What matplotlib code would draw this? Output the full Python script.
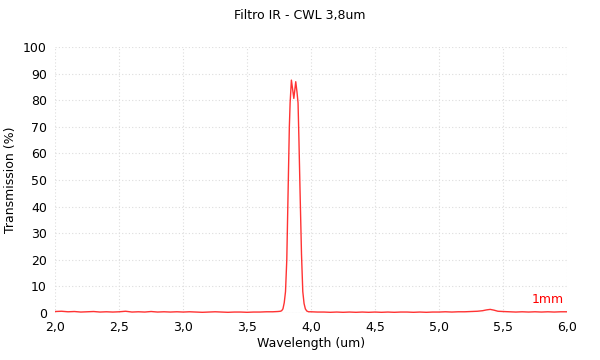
import matplotlib
matplotlib.use("Agg")
import matplotlib.pyplot as plt

# wavelength (um) and transmission (%)
wavelength = [2.00, 2.05, 2.10, 2.15, 2.20, 2.25, 2.30, 2.35, 2.40, 2.45, 2.50,
              2.55, 2.60, 2.65, 2.70, 2.75, 2.80, 2.85, 2.90, 2.95, 3.00,
              3.05, 3.10, 3.15, 3.20, 3.25, 3.30, 3.35, 3.40, 3.45, 3.50,
              3.55, 3.60, 3.65, 3.70, 3.74, 3.76, 3.77, 3.78, 3.79, 3.80,
              3.81, 3.82, 3.83, 3.836, 3.846, 3.856, 3.865, 3.873, 3.880,
              3.890, 3.898, 3.905, 3.914, 3.925, 3.935, 3.945, 3.955, 3.966,
              3.98, 4.00, 4.05,
              4.10, 4.15, 4.20, 4.25, 4.30, 4.35, 4.40, 4.45, 4.50, 4.55,
              4.60, 4.65, 4.70, 4.75, 4.80, 4.85, 4.90, 4.95, 5.00, 5.05,
              5.10, 5.15, 5.20, 5.25, 5.30, 5.34, 5.37, 5.40, 5.43, 5.46,
              5.50, 5.55, 5.60, 5.65, 5.70, 5.75, 5.80, 5.85, 5.90, 5.95, 6.00]
transmission = [0.5, 0.6, 0.4, 0.5, 0.3, 0.4, 0.5, 0.3, 0.4, 0.3, 0.4,
                0.6, 0.3, 0.4, 0.3, 0.5, 0.3, 0.4, 0.3, 0.4, 0.3,
                0.4, 0.3, 0.2, 0.3, 0.4, 0.3, 0.2, 0.3, 0.3, 0.2,
                0.3, 0.3, 0.4, 0.4, 0.5, 0.6, 0.8, 1.5, 3.8, 8.0,
                20.0, 45.0, 70.0, 79.0, 87.6, 84.0, 80.7, 84.0, 87.0,
                83.0, 79.0, 65.0, 45.0, 22.0, 8.0, 3.5, 1.5, 0.7,
                0.4, 0.4, 0.3,
                0.3, 0.2, 0.3, 0.2, 0.3, 0.2, 0.3, 0.2, 0.3, 0.2,
                0.3, 0.2, 0.3, 0.3, 0.2, 0.3, 0.2, 0.3, 0.3, 0.4,
                0.3, 0.4, 0.4, 0.5, 0.6, 0.8, 1.1, 1.3, 1.0, 0.6,
                0.5, 0.4, 0.3, 0.4, 0.3, 0.4, 0.3, 0.4, 0.3, 0.4, 0.4]

x_ticks = [2.0, 2.5, 3.0, 3.5, 4.0, 4.5, 5.0, 5.5, 6.0]
x_labels = ["2,0", "2,5", "3,0", "3,5", "4,0", "4,5", "5,0", "5,5", "6,0"]
y_ticks = list(range(0, 101, 10))

fig = plt.figure(figsize=(6, 3.6), dpi=100)
ax = fig.add_axes([0.092, 0.131, 0.853, 0.738])

ax.plot(wavelength, transmission, color="#ff3333", linewidth=1.0)
ax.text(5.85, 2.5, "1mm", color="red", fontsize=9, ha="center", va="bottom")

ax.set_xlim(2.0, 6.0)
ax.set_ylim(0, 100)
ax.set_xticks(x_ticks)
ax.set_xticklabels(x_labels)
ax.set_yticks(y_ticks)
ax.tick_params(length=0, labelsize=9, pad=6)
ax.grid(True, linestyle=(0, (1, 2)), color="#dddddd", linewidth=0.8)
for s in ax.spines.values():
    s.set_visible(False)
ax.axhline(0, color="#dddddd", linewidth=0.8, zorder=0)

ax.set_xlabel("Wavelength (um)", fontsize=9, labelpad=2)
ax.set_ylabel("Transmission (%)", fontsize=9)
fig.suptitle("Filtro IR - CWL 3,8um", fontsize=9, y=0.975)

fig.savefig("out.png", dpi=100)
